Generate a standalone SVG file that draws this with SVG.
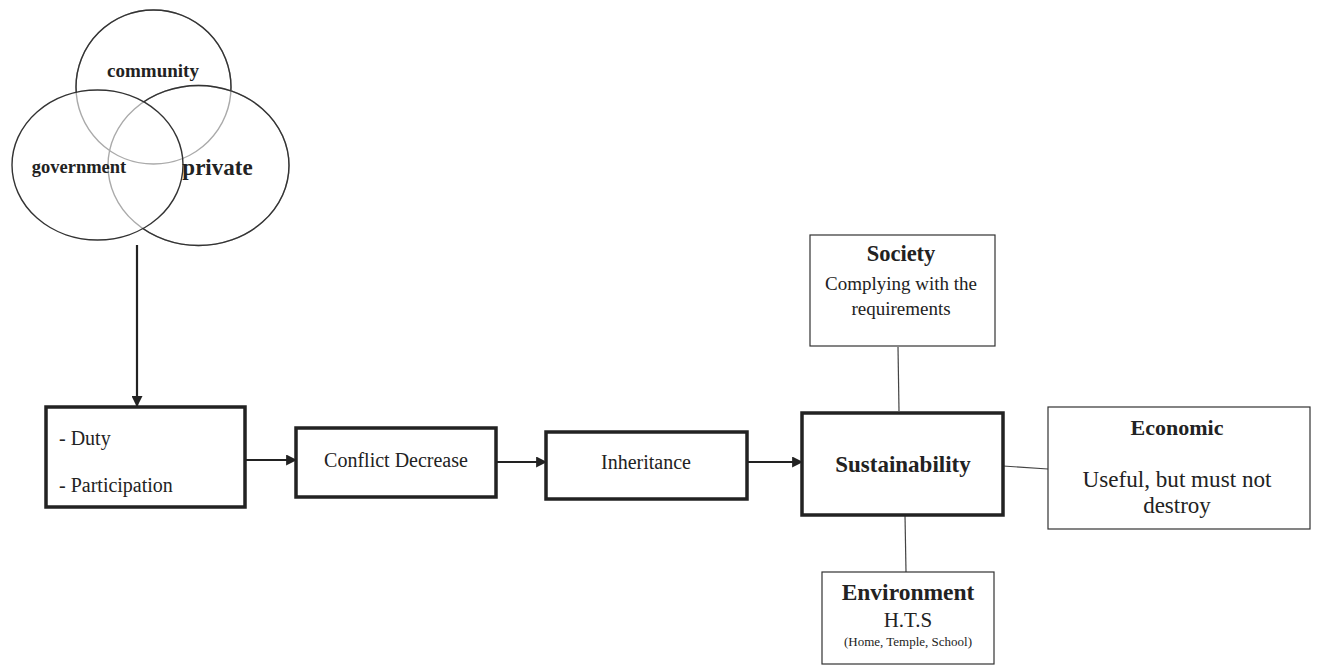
<svg xmlns="http://www.w3.org/2000/svg" width="1317" height="666" viewBox="0 0 1317 666">
<style>
text{font-family:"Liberation Serif","Times New Roman",serif;fill:#222}
.b{font-weight:bold}
.thick{fill:#fff;stroke:#222;stroke-width:3.5}
.thin{fill:#fff;stroke:#333;stroke-width:1.2}
.conn{stroke:#222;stroke-width:2.2;fill:none}
.line{stroke:#444;stroke-width:1.2;fill:none}
.circ{fill:none;stroke-width:1.4}
</style>
<defs>
<marker id="arr" viewBox="0 0 10 10" refX="9" refY="5" markerWidth="5" markerHeight="5" orient="auto" markerUnits="strokeWidth">
<path d="M0,0 L10,5 L0,10 z" fill="#222"/>
</marker>
<mask id="mComm">
<rect x="0" y="0" width="1317" height="666" fill="#fff"/>
<ellipse cx="97.5" cy="165" rx="85.5" ry="75" fill="#000"/>
<ellipse cx="198.5" cy="165.5" rx="90.5" ry="80" fill="#000"/>
</mask>
<mask id="mPriv">
<rect x="0" y="0" width="1317" height="666" fill="#fff"/>
<ellipse cx="97.5" cy="165" rx="85.5" ry="75" fill="#000"/>
</mask>
</defs>
<g id="venn">
<ellipse class="circ" cx="153.5" cy="87" rx="77.5" ry="77" stroke="#aaa"/>
<ellipse class="circ" cx="153.5" cy="87" rx="77.5" ry="77" stroke="#333" mask="url(#mComm)"/>
<ellipse class="circ" cx="198.5" cy="165.5" rx="90.5" ry="80" stroke="#aaa"/>
<ellipse class="circ" cx="198.5" cy="165.5" rx="90.5" ry="80" stroke="#333" mask="url(#mPriv)"/>
<ellipse class="circ" cx="97.5" cy="165" rx="85.5" ry="75" stroke="#333"/>
<text class="b" x="153" y="77" font-size="19" text-anchor="middle">community</text>
<text class="b" x="79" y="173" font-size="18.5" text-anchor="middle">government</text>
<text class="b" x="217.5" y="175" font-size="23" text-anchor="middle">private</text>
</g>
<g id="connectors">
<line class="conn" x1="137" y1="245" x2="137" y2="406" stroke-width="3" marker-end="url(#arr)"/>
<line class="conn" x1="245" y1="460" x2="296" y2="460" marker-end="url(#arr)"/>
<line class="conn" x1="496" y1="462" x2="546" y2="462" marker-end="url(#arr)"/>
<line class="conn" x1="747" y1="462" x2="802" y2="462" marker-end="url(#arr)"/>
<line class="line" x1="898" y1="347" x2="899" y2="411"/>
<line class="line" x1="905" y1="515" x2="906" y2="572"/>
<line class="line" x1="1003" y1="466" x2="1048" y2="469"/>
</g>
<g id="duty">
<rect class="thick" x="46" y="407" width="199" height="100"/>
<text x="59" y="445" font-size="20">- Duty</text>
<text x="59" y="492" font-size="20">- Participation</text>
</g>
<g id="conflict">
<rect class="thick" x="296" y="428" width="200" height="69"/>
<text x="396" y="467" font-size="20" text-anchor="middle">Conflict Decrease</text>
</g>
<g id="inheritance">
<rect class="thick" x="546" y="432" width="201" height="67"/>
<text x="646" y="469" font-size="20" text-anchor="middle">Inheritance</text>
</g>
<g id="sustainability">
<rect class="thick" x="802" y="413" width="201" height="102" stroke-width="4"/>
<text class="b" x="903" y="472" font-size="23" text-anchor="middle">Sustainability</text>
</g>
<g id="society">
<rect class="thin" x="810" y="235" width="185" height="111"/>
<text class="b" x="901" y="261" font-size="22.5" text-anchor="middle">Society</text>
<text x="901" y="290" font-size="19" text-anchor="middle">Complying with the</text>
<text x="901" y="315" font-size="19" text-anchor="middle">requirements</text>
</g>
<g id="environment">
<rect class="thin" x="822" y="572" width="172" height="92"/>
<text class="b" x="908" y="600" font-size="23.5" text-anchor="middle">Environment</text>
<text x="908" y="627" font-size="21" text-anchor="middle">H.T.S</text>
<text x="908" y="646" font-size="13" text-anchor="middle">(Home, Temple, School)</text>
</g>
<g id="economic">
<rect class="thin" x="1048" y="407" width="262" height="122"/>
<text class="b" x="1177" y="435" font-size="22" text-anchor="middle">Economic</text>
<text x="1177" y="487" font-size="23" text-anchor="middle" textLength="189" lengthAdjust="spacingAndGlyphs">Useful, but must not</text>
<text x="1177" y="513" font-size="23" text-anchor="middle">destroy</text>
</g>
</svg>
